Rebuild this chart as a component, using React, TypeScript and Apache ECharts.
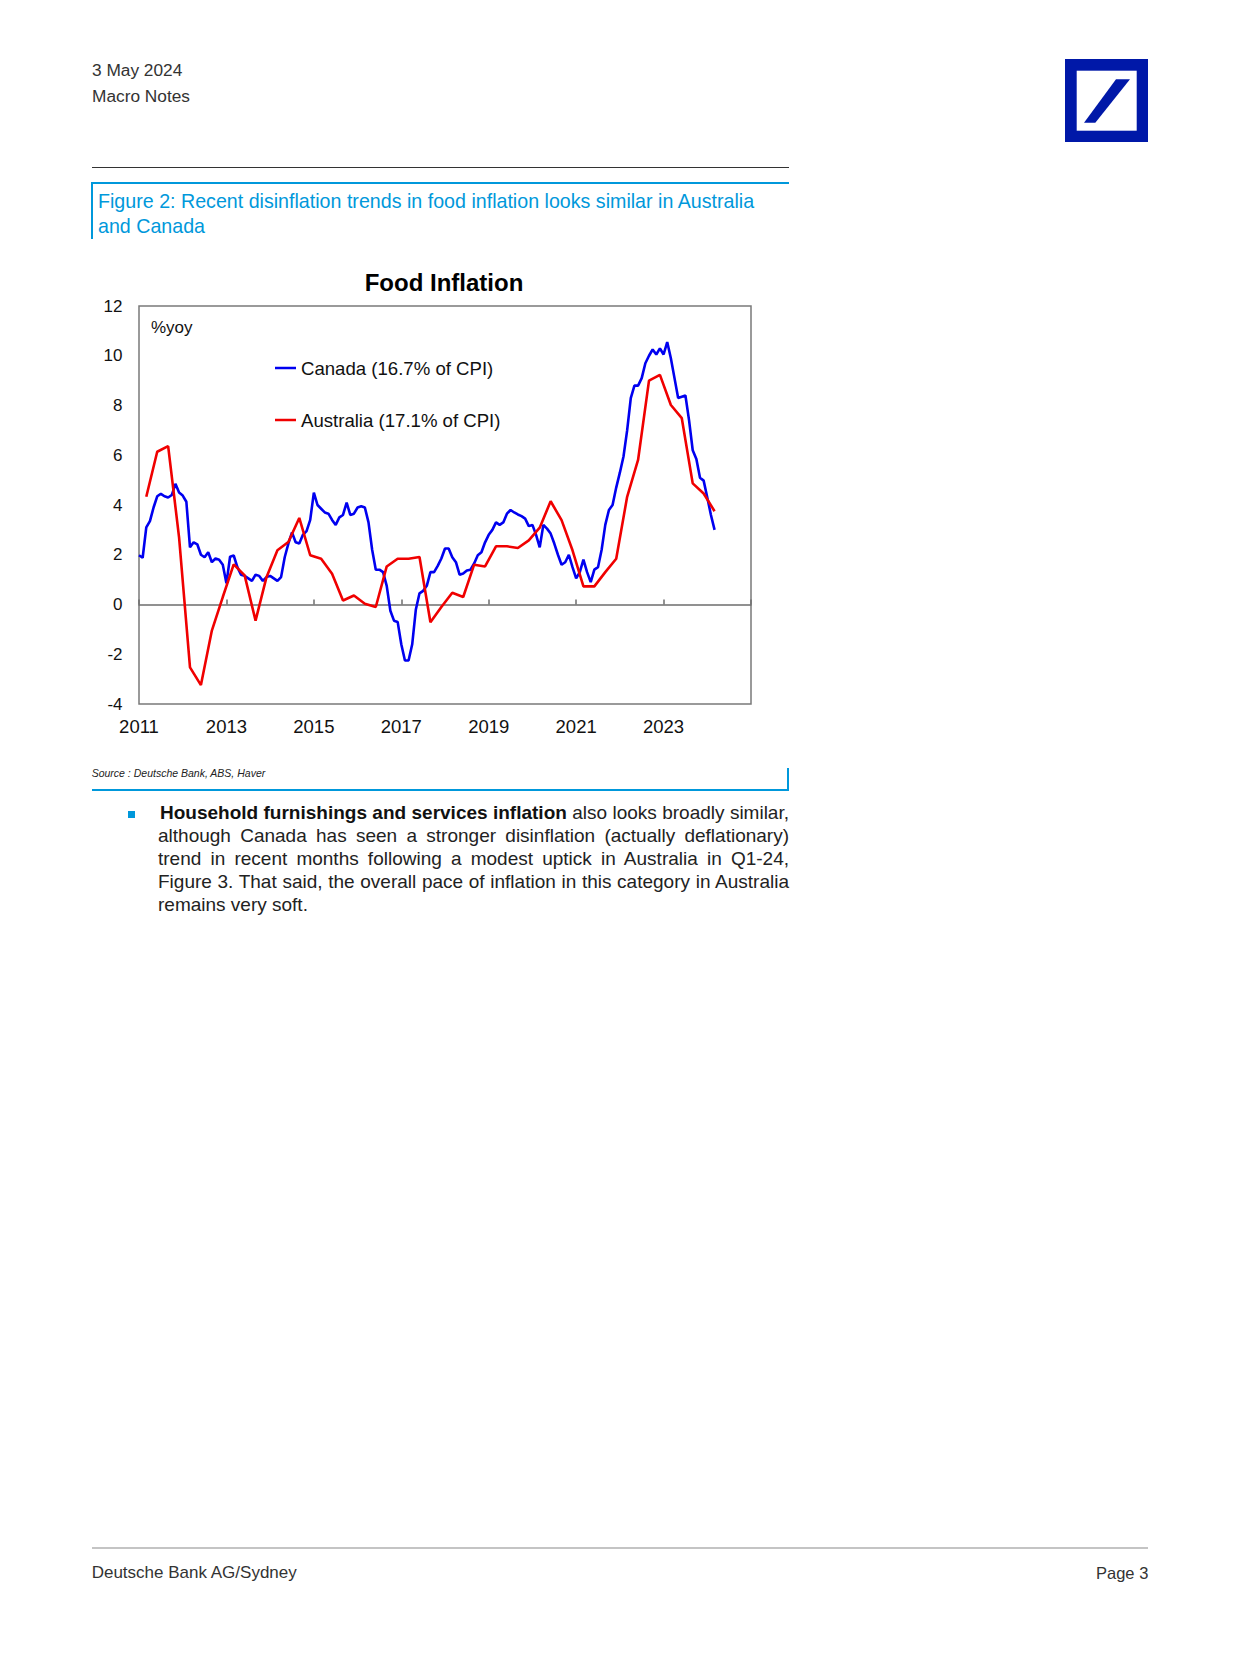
import React, { useEffect, useRef } from 'react';
import * as echarts from 'echarts';

// ---------------- DATA ----------------
const chartTitle = 'Food Inflation';
const unitLabel = '%yoy';
const seriesNames = ['Canada (16.7% of CPI)', 'Australia (17.1% of CPI)'];
const xTickLabels = ['2011', '2013', '2015', '2017', '2019', '2021', '2023'];

// Canada food inflation, monthly, Jan 2011 – Mar 2024 (% y/y)
const canadaMonthly = [
  1.98, 1.88, 3.1, 3.35, 3.9, 4.35, 4.45, 4.35, 4.3, 4.4, 4.85, 4.5,
  4.38, 4.13, 2.3, 2.5, 2.42, 2.0, 1.9, 2.1, 1.7, 1.85, 1.8, 1.6,
  0.85, 1.92, 1.97, 1.5, 1.2, 1.15, 1.05, 0.95, 1.2, 1.15, 0.95, 1.1,
  1.15, 1.05, 0.95, 1.1, 1.9, 2.45, 2.9, 2.5, 2.45, 2.8, 2.95, 3.4,
  4.5, 4.0, 3.85, 3.7, 3.65, 3.4, 3.2, 3.5, 3.6, 4.1, 3.6, 3.65,
  3.9, 3.95, 3.9, 3.3, 2.2, 1.4, 1.4, 1.3, 0.75, -0.25, -0.65, -0.7,
  -1.6, -2.25, -2.25, -1.6, -0.2, 0.45, 0.55, 0.75, 1.3, 1.3, 1.55, 1.85,
  2.25, 2.25, 1.9, 1.7, 1.2, 1.25, 1.37, 1.4, 1.65, 1.98, 2.1, 2.5,
  2.8, 3.0, 3.3, 3.2, 3.3, 3.65, 3.8, 3.7, 3.62, 3.55, 3.45, 3.15,
  3.2, 2.8, 2.3, 3.2, 3.05, 2.85, 2.45, 2.0, 1.6, 1.7, 2.0, 1.5,
  1.05, 1.3, 1.8, 1.3, 0.9, 1.4, 1.5, 2.2, 3.2, 3.8, 4.0, 4.7,
  5.3, 5.95, 7.0, 8.3, 8.8, 8.8, 9.1, 9.7, 10.0, 10.25, 10.05, 10.3,
  10.05, 10.55, 9.9, 9.1, 8.3, 8.35, 8.4, 7.4, 6.2, 5.85, 5.1, 4.98,
  4.3, 3.6, 3.0,
];

// Australia food inflation, quarterly, Q1 2011 – Q1 2024 (% y/y)
const australiaQuarterly = [
  4.33, 6.14, 6.37, 2.7,
  -2.53, -3.24, -1.05, 0.3,
  1.61, 1.17, -0.65, 1.1,
  2.18, 2.51, 3.48, 1.98,
  1.84, 1.24, 0.16, 0.36,
  0.03, -0.1, 1.53, 1.84,
  1.84, 1.91, -0.71, -0.1,
  0.47, 0.3, 1.6, 1.53,
  2.34, 2.34, 2.27, 2.58,
  3.09, 4.15, 3.39, 2.18,
  0.73, 0.73, 1.3, 1.84,
  4.33, 5.81, 9.0, 9.23,
  8.02, 7.49, 4.87, 4.46,
  3.75,
];

const sourceText = 'Source : Deutsche Bank, ABS, Haver';
const figureTitleLines = [
  'Figure 2: Recent disinflation trends in food inflation looks similar in Australia',
  'and Canada',
];
const paragraphBold = 'Household furnishings and services inflation';
const paragraphLines = [
  ' also looks broadly similar,',
  'although Canada has seen a stronger disinflation (actually deflationary)',
  'trend in recent months following a modest uptick in Australia in Q1-24,',
  'Figure 3. That said, the overall pace of inflation in this category in Australia',
  'remains very soft.',
];

// ---------------- STYLE ----------------
const FONT = '"Liberation Sans", Arial, Helvetica, sans-serif';
const DB_CYAN = '#0098db';
const DB_BLUE = '#0018a8';
const CAN_COLOR = '#0000f0';
const AUS_COLOR = '#f00000';

// x = months since Jan 2011
const canadaData = canadaMonthly.map((v, i) => [i, v]);
const australiaData = australiaQuarterly.map((v, k) => [2 + 3 * k, v]);

function buildOption(): any {
  const legendText = { fontSize: 18.6, color: '#111', lineHeight: 20, fontFamily: FONT };
  return {
    animation: false,
    textStyle: { fontFamily: FONT },
    grid: {
      left: 139,
      right: 49,
      top: 66,
      bottom: 56,
      show: true,
      borderColor: '#7a7a7a',
      borderWidth: 1.5,
      backgroundColor: 'transparent',
    },
    xAxis: [
      {
        type: 'value',
        min: 0,
        max: 168,
        interval: 24,
        position: 'bottom',
        axisLine: { show: true, onZero: true, lineStyle: { color: '#6e6e6e', width: 1.5 } },
        axisTick: { show: true, inside: true, length: 5, lineStyle: { color: '#6e6e6e', width: 1.5 } },
        axisLabel: { show: false },
        splitLine: { show: false },
      },
      {
        type: 'value',
        min: 0,
        max: 168,
        interval: 24,
        position: 'bottom',
        axisLine: { show: false, onZero: false },
        axisTick: { show: false },
        axisLabel: {
          show: true,
          margin: 13,
          fontSize: 18.5,
          color: '#111',
          fontFamily: FONT,
          formatter: (v: number) => xTickLabels[Math.round(v / 24)] ?? '',
        },
        splitLine: { show: false },
      },
    ],
    yAxis: {
      type: 'value',
      min: -4,
      max: 12,
      interval: 2,
      axisLine: { show: false },
      axisTick: { show: false },
      splitLine: { show: false },
      axisLabel: { fontSize: 17, color: '#111', margin: 16.5, fontFamily: FONT },
    },
    legend: [
      {
        data: [seriesNames[0]],
        left: 275,
        top: 118,
        icon: 'rect',
        itemWidth: 21,
        itemHeight: 2.5,
        padding: 0,
        selectedMode: false,
        textStyle: legendText,
      },
      {
        data: [seriesNames[1]],
        left: 275,
        top: 170,
        icon: 'rect',
        itemWidth: 21,
        itemHeight: 2.5,
        padding: 0,
        selectedMode: false,
        textStyle: legendText,
      },
    ],
    graphic: [
      {
        type: 'text',
        x: 444,
        y: 42,
        style: {
          text: chartTitle,
          font: `bold 24px ${FONT}`,
          fill: '#000',
          align: 'center',
          verticalAlign: 'middle',
          textAlign: 'center',
          textVerticalAlign: 'middle',
        },
      },
      {
        type: 'text',
        x: 151,
        y: 87,
        style: {
          text: unitLabel,
          font: `17px ${FONT}`,
          fill: '#111',
          align: 'left',
          verticalAlign: 'middle',
          textAlign: 'left',
          textVerticalAlign: 'middle',
        },
      },
    ],
    series: [
      {
        name: seriesNames[0],
        type: 'line',
        xAxisIndex: 0,
        data: canadaData,
        showSymbol: false,
        symbol: 'none',
        lineStyle: { color: CAN_COLOR, width: 2.6 },
        itemStyle: { color: CAN_COLOR },
        z: 3,
      },
      {
        name: seriesNames[1],
        type: 'line',
        xAxisIndex: 0,
        data: australiaData,
        showSymbol: false,
        symbol: 'none',
        lineStyle: { color: AUS_COLOR, width: 2.6 },
        itemStyle: { color: AUS_COLOR },
        z: 4,
      },
    ],
  };
}

const abs = (extra: React.CSSProperties): React.CSSProperties => ({
  position: 'absolute',
  whiteSpace: 'nowrap',
  margin: 0,
  ...extra,
});

export default function App() {
  const ref = useRef<HTMLDivElement>(null);

  useEffect(() => {
    if (!ref.current) return;
    const chart = echarts.init(ref.current, null, { renderer: 'svg' });
    chart.setOption(buildOption());
    return () => chart.dispose();
  }, []);

  const lineTop = (i: number) => 800.5 + i * 23.2;

  return (
    <div
      style={{
        position: 'absolute',
        left: 0,
        top: 0,
        width: 1240,
        height: 1654,
        background: '#fff',
        fontFamily: FONT,
        color: '#222',
        overflow: 'hidden',
      }}
    >
      {/* Header */}
      <div style={abs({ left: 92, top: 59.5, fontSize: 17.3, lineHeight: '20px', color: '#333' })}>3 May 2024</div>
      <div style={abs({ left: 92, top: 86, fontSize: 17.3, lineHeight: '20px', color: '#333' })}>Macro Notes</div>

      {/* Logo */}
      <svg style={{ position: 'absolute', left: 1065, top: 59 }} width={83} height={83} viewBox="0 0 83 83">
        <rect x={0} y={0} width={83} height={83} fill={DB_BLUE} />
        <rect x={11.7} y={11.7} width={60} height={60} fill="#fff" />
        <polygon points="19,63.7 30.3,63.7 65,20.3 51,20.3" fill={DB_BLUE} />
      </svg>

      {/* Rules and figure frame */}
      <div style={abs({ left: 92, top: 166.8, width: 697, height: 1, background: '#333' })} />
      <div style={abs({ left: 91, top: 181.5, width: 698, height: 2, background: DB_CYAN })} />
      <div style={abs({ left: 90.5, top: 181.5, width: 2, height: 57, background: DB_CYAN })} />
      {figureTitleLines.map((t, i) => (
        <div
          key={i}
          style={abs({ left: 98, top: 189.2 + i * 25, fontSize: 19.65, lineHeight: '25px', color: DB_CYAN })}
        >
          {t}
        </div>
      ))}

      {/* Chart */}
      <div ref={ref} style={{ position: 'absolute', left: 0, top: 240, width: 800, height: 520 }} />

      {/* Source and frame bottom */}
      <div
        style={abs({ left: 91.7, top: 766.5, fontSize: 10.5, lineHeight: '13px', fontStyle: 'italic', color: '#222' })}
      >
        {sourceText}
      </div>
      <div style={abs({ left: 91.7, top: 789, width: 697, height: 1.5, background: DB_CYAN })} />
      <div style={abs({ left: 787.2, top: 767.6, width: 1.5, height: 22.9, background: DB_CYAN })} />

      {/* Bullet paragraph */}
      <div style={abs({ left: 128.3, top: 810.5, width: 7, height: 7, background: DB_CYAN })} />
      {paragraphLines.map((t, i) => {
        const last = i === paragraphLines.length - 1;
        return (
          <div
            key={i}
            style={abs({
              left: i === 0 ? 160 : 158,
              top: lineTop(i),
              width: i === 0 ? 629 : 631,
              fontSize: 19,
              lineHeight: '23.2px',
              color: '#222',
              textAlign: last ? 'left' : 'justify',
              textAlignLast: last ? 'left' : 'justify',
            } as React.CSSProperties)}
          >
            {i === 0 ? <b style={{ color: '#111' }}>{paragraphBold}</b> : null}
            {t}
          </div>
        );
      })}

      {/* Footer */}
      <div style={abs({ left: 91.7, top: 1546.8, width: 1056.5, height: 2, background: '#c4c4c4' })} />
      <div style={abs({ left: 91.7, top: 1563, fontSize: 17, lineHeight: '20px', color: '#333' })}>
        Deutsche Bank AG/Sydney
      </div>
      <div style={abs({ right: 1240 - 1148.3, top: 1563, fontSize: 16.5, lineHeight: '20px', color: '#333' })}>
        Page 3
      </div>
    </div>
  );
}
